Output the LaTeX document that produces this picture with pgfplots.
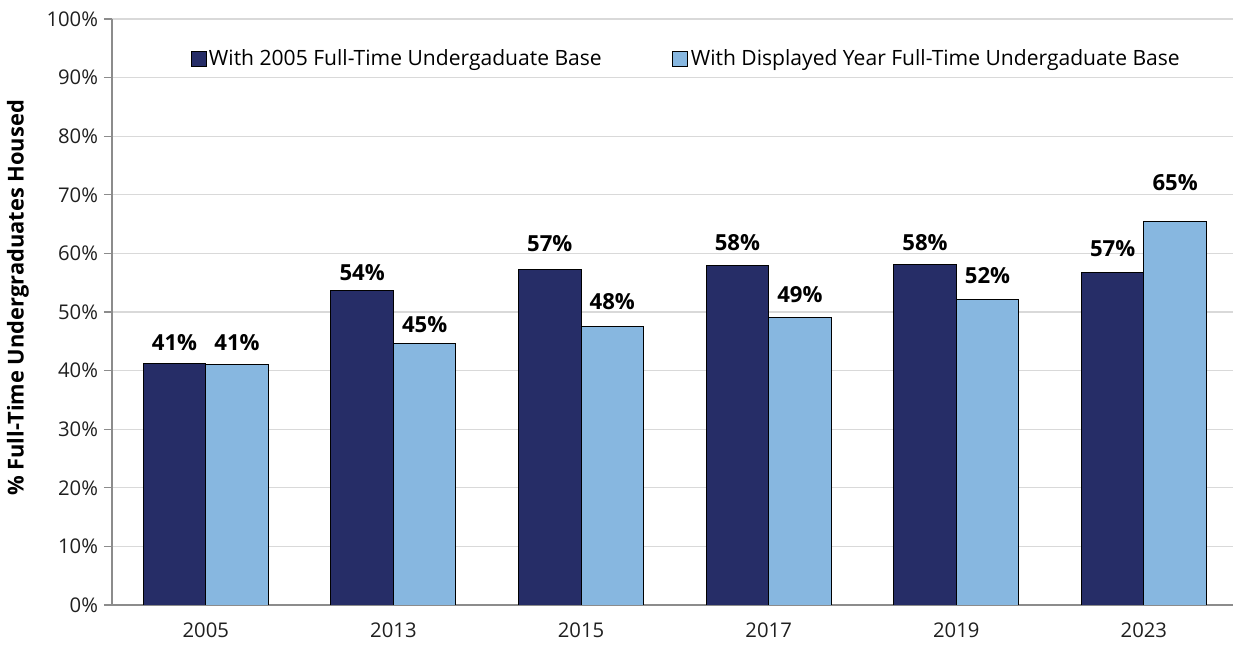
\documentclass[border=0pt]{standalone}
\usepackage{fontspec}
\setmainfont{Open Sans}
\usepackage{pgfplots}
\usepackage{pgfplotstable}
\pgfplotsset{compat=1.18}
\definecolor{navy}{HTML}{262D67}
\definecolor{lblue}{HTML}{87B7E0}
\definecolor{gridc}{HTML}{D9D9D9}
\definecolor{axc}{HTML}{8C8C8C}
\pgfplotstableread{
x y lab off
0 41.2 41 10.0
1 53.6 54 7.5
2 57.2 57 13.5
3 58.0 58 11.2
4 58.1 58 10.5
5 56.8 57 11.5
}\darktab
\pgfplotstableread{
x y lab off
0 41.1 41 10.5
1 44.6 45 8.7
2 47.6 48 12.7
3 49.1 49 11.2
4 52.2 52 12.0
5 65.4 65 23.8
}\lighttab
\begin{document}
\begin{tikzpicture}
\useasboundingbox (-84pt,-32.25pt) rectangle (841.5pt,453.75pt);
\begin{axis}[
  at={(0,0)}, anchor=south west,
  scale only axis,
  width=840.75pt, height=439.5pt,
  xmin=-0.5, xmax=5.475,
  ymin=0, ymax=100,
  ybar=0pt, bar width=46.9pt,
  xtick={0,1,2,3,4,5},
  xticklabels={2005,2013,2015,2017,2019,2023},
  ytick={0,10,...,100},
  yticklabel={\pgfmathprintnumber{\tick}\%},
  /pgf/number format/assume math mode=true,
  tick label style={font=\fontsize{15.2}{17}\selectfont, text=black!88},
  xtick style={draw=none},
  ytick style={draw=axc, line width=1pt},
  tick align=outside,
  major tick length=6pt,
  ymajorgrids,
  grid style={draw=gridc, line width=1pt},
  axis x line*=bottom, axis y line*=left,
  axis line style={draw=axc, line width=2pt, -},
  xticklabel style={yshift=-4pt},
  yticklabel style={xshift=-1pt},
  ylabel={\% Full-Time Undergraduates Housed},
  ylabel style={font=\bfseries\fontsize{16.4}{19}\selectfont, at={(axis description cs:-0.0839,0.524)}, anchor=center},
  legend style={at={(0.5125,0.932)}, anchor=center, draw=none, fill=none,
    legend columns=2, font=\fontsize{15.8}{18}\selectfont,
    /tikz/every even column/.append style={column sep=51pt}},
  legend image code/.code={\draw[#1, draw=black, line width=0.6pt] (0pt,-5.6pt) rectangle (11.2pt,5.6pt);},
  point meta=explicit,
  visualization depends on={\thisrow{off} \as \myoff},
  nodes near coords={\pgfmathprintnumber[fixed,precision=0]{\pgfplotspointmeta}\%},
  nodes near coords style={font=\bfseries\fontsize{16.6}{19}\selectfont, anchor=base, inner sep=0pt, yshift=\myoff pt, text=black},
]
\addplot[fill=navy, draw=black, line width=0.7pt] table[x=x, y=y, meta=lab] {\darktab};
\addplot[fill=lblue, draw=black, line width=0.7pt] table[x=x, y=y, meta=lab] {\lighttab};
\legend{With 2005 Full-Time Undergaduate Base, With Displayed Year Full-Time Undergaduate Base}
\end{axis}
\end{tikzpicture}
\end{document}
